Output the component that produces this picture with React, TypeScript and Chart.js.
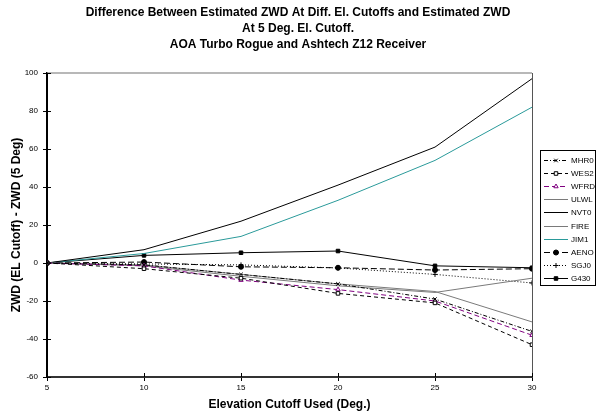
import React, { useEffect, useRef } from "react";
import { Chart, registerables } from "chart.js";
import { drawPoint } from "chart.js/helpers";
Chart.register(...registerables);

const elevations = [5, 10, 15, 20, 25, 30];
const MHR0 = [0, -1, -6, -11, -19, -36];
const WES2 = [0, -3, -8, -16, -21, -43];
const WFRD = [0, -1.5, -9, -14, -20, -38];
const ULWL = [0, -1, -6, -11, -15, -31];
const NVT0 = [0, 7, 22, 41, 61, 97];
const FIRE = [0, -1.5, -7, -12, -15.5, -8];
const JIM1 = [0, 5, 14, 33, 54, 82];
const AENO = [0, 0.5, -2, -2.5, -3.7, -3];
const SGJ0 = [0, -0.5, -1, -2.6, -6, -10.5];
const G430 = [0, 4, 5.4, 6.3, -1.5, -2.5];

const titleLines = [
  "Difference Between Estimated ZWD At Diff. El. Cutoffs and Estimated ZWD",
  "At 5 Deg. El. Cutoff.",
  "AOA Turbo Rogue and Ashtech Z12 Receiver",
];
const xTitle = "Elevation Cutoff Used (Deg.)";
const yTitle = "ZWD (EL Cutoff) - ZWD (5 Deg)";

const FONT = "'Liberation Sans', Arial, sans-serif";

const pts = (arr: number[]) => elevations.map((x, i) => ({ x, y: arr[i] }));

const titlePlugin = {
  id: "centeredTitle",
  afterDraw(chart: any) {
    const { ctx } = chart;
    ctx.save();
    ctx.fillStyle = "#000";
    ctx.font = `bold 12px ${FONT}`;
    ctx.textAlign = "center";
    ctx.textBaseline = "middle";
    titleLines.forEach((t, i) => ctx.fillText(t, 298, 13 + i * 15.6));
    ctx.restore();
  },
};

const framePlugin = {
  id: "frame",
  beforeDatasetsDraw(chart: any) {
    const { ctx, chartArea } = chart;
    const { left, right, top, bottom } = chartArea;
    ctx.save();
    ctx.strokeStyle = "#a0a0a0";
    ctx.lineWidth = 1.5;
    ctx.beginPath();
    ctx.moveTo(left, top);
    ctx.lineTo(right, top);
    ctx.stroke();
    ctx.strokeStyle = "#555";
    ctx.lineWidth = 1;
    ctx.beginPath();
    ctx.moveTo(right + 0.5, top);
    ctx.lineTo(right + 0.5, bottom);
    ctx.stroke();
    ctx.strokeStyle = "#000";
    ctx.lineWidth = 1;
    ctx.beginPath();
    const ys = chart.scales.y;
    ys.ticks.forEach((t: any) => {
      const py = Math.round(ys.getPixelForValue(t.value)) + 0.5;
      ctx.moveTo(left, py);
      ctx.lineTo(left + 4, py);
    });
    const xs = chart.scales.x;
    xs.ticks.forEach((t: any) => {
      const px = Math.round(xs.getPixelForValue(t.value)) + 0.5;
      ctx.moveTo(px, bottom);
      ctx.lineTo(px, bottom - 4);
    });
    ctx.stroke();
    ctx.restore();
  },
};

const legendPlugin = {
  id: "customLegend",
  afterDraw(chart: any) {
    const { ctx } = chart;
    const bx = 540.5,
      by = 150.5,
      bw = 55,
      bh = 135;
    ctx.save();
    ctx.fillStyle = "#fff";
    ctx.fillRect(bx, by, bw, bh);
    ctx.strokeStyle = "#000";
    ctx.lineWidth = 1;
    ctx.strokeRect(bx, by, bw, bh);
    ctx.font = `8px ${FONT}`;
    ctx.textBaseline = "middle";
    ctx.textAlign = "left";
    chart.data.datasets.forEach((ds: any, i: number) => {
      const y = Math.round(160 + i * 13.1) + 0.5;
      ctx.save();
      ctx.strokeStyle = ds.borderColor;
      ctx.lineWidth = ds.borderWidth;
      ctx.setLineDash(ds.borderDash || []);
      ctx.beginPath();
      ctx.moveTo(544, y);
      ctx.lineTo(568, y);
      ctx.stroke();
      ctx.setLineDash([]);
      if (ds.pointRadius > 0) {
        ctx.fillStyle = ds.pointBackgroundColor;
        ctx.strokeStyle = ds.pointBorderColor;
        ctx.lineWidth = 1;
        drawPoint(
          ctx,
          { pointStyle: ds.pointStyle, rotation: 0, radius: ds.pointRadius, borderWidth: 1 },
          556,
          y
        );
      }
      ctx.restore();
      ctx.fillStyle = "#000";
      ctx.fillText(ds.label, 571, y);
    });
    ctx.restore();
  },
};

export default function App() {
  const ref = useRef<HTMLCanvasElement>(null);
  useEffect(() => {
    if (!ref.current) return;
    const mk = (
      label: string,
      arr: number[],
      color: string,
      dash: number[],
      style: any,
      radius: number,
      fill: string
    ) => ({
      label,
      data: pts(arr),
      borderColor: color,
      borderWidth: 1,
      borderDash: dash,
      pointStyle: style,
      pointRadius: radius,
      pointHoverRadius: radius,
      pointBackgroundColor: fill,
      pointBorderColor: color,
      pointBorderWidth: 1,
      tension: 0,
      fill: false,
    });
    const chart = new Chart(ref.current, {
      type: "line",
      data: {
        datasets: [
          mk("MHR0", MHR0, "#000", [4, 2, 1, 2], "crossRot", 2.5, "#000"),
          mk("WES2", WES2, "#000", [4, 3], "rect", 2.5, "#fff"),
          mk("WFRD", WFRD, "#800080", [5, 3], "triangle", 2.5, "#fff"),
          mk("ULWL", ULWL, "#7a7a7a", [], "circle", 0, "#000"),
          mk("NVT0", NVT0, "#000", [], "circle", 0, "#000"),
          mk("FIRE", FIRE, "#7a7a7a", [], "circle", 0, "#000"),
          mk("JIM1", JIM1, "#2a9a9a", [], "circle", 0, "#000"),
          mk("AENO", AENO, "#000", [6, 3], "circle", 2.5, "#000"),
          mk("SGJ0", SGJ0, "#000", [1, 2], "cross", 2.5, "#000"),
          mk("G430", G430, "#000", [], "rect", 2.5, "#000"),
        ] as any,
      },
      options: {
        responsive: false,
        animation: false,
        devicePixelRatio: 1,
        layout: { padding: { left: 0, right: 64, top: 73, bottom: 0 } },
        plugins: {
          legend: { display: false },
          tooltip: { enabled: false },
          title: { display: false },
        },
        scales: {
          x: {
            type: "linear",
            min: 5,
            max: 30,
            afterFit: (s: any) => {
              s.height = 36;
            },
            ticks: {
              stepSize: 5,
              color: "#000",
              font: { family: FONT, size: 8 },
              padding: 2,
              maxRotation: 0,
            },
            grid: {
              drawOnChartArea: false,
              drawTicks: true,
              tickLength: 4,
              tickColor: "#000",
            },
            border: { display: true, color: "#333", width: 2 },
            title: {
              display: true,
              text: xTitle,
              color: "#000",
              font: { family: FONT, size: 12, weight: "bold" },
              padding: { top: 0, bottom: 1 },
            },
          },
          y: {
            type: "linear",
            min: -60,
            max: 100,
            afterFit: (s: any) => {
              s.width = 47;
            },
            ticks: {
              stepSize: 20,
              color: "#000",
              font: { family: FONT, size: 8 },
              padding: 5,
            },
            grid: {
              drawOnChartArea: false,
              drawTicks: true,
              tickLength: 4,
              tickColor: "#000",
            },
            border: { display: true, color: "#000", width: 2 },
            title: {
              display: true,
              text: yTitle,
              color: "#000",
              font: { family: FONT, size: 12, weight: "bold" },
              padding: { top: 9, bottom: 0 },
            },
          },
        },
      } as any,
      plugins: [framePlugin, legendPlugin, titlePlugin],
    });
    return () => chart.destroy();
  }, []);
  return (
    <div style={{ position: "absolute", left: 0, top: 0, width: 596, height: 413, background: "#fff" }}>
      <canvas ref={ref} width={596} height={413} />
    </div>
  );
}
